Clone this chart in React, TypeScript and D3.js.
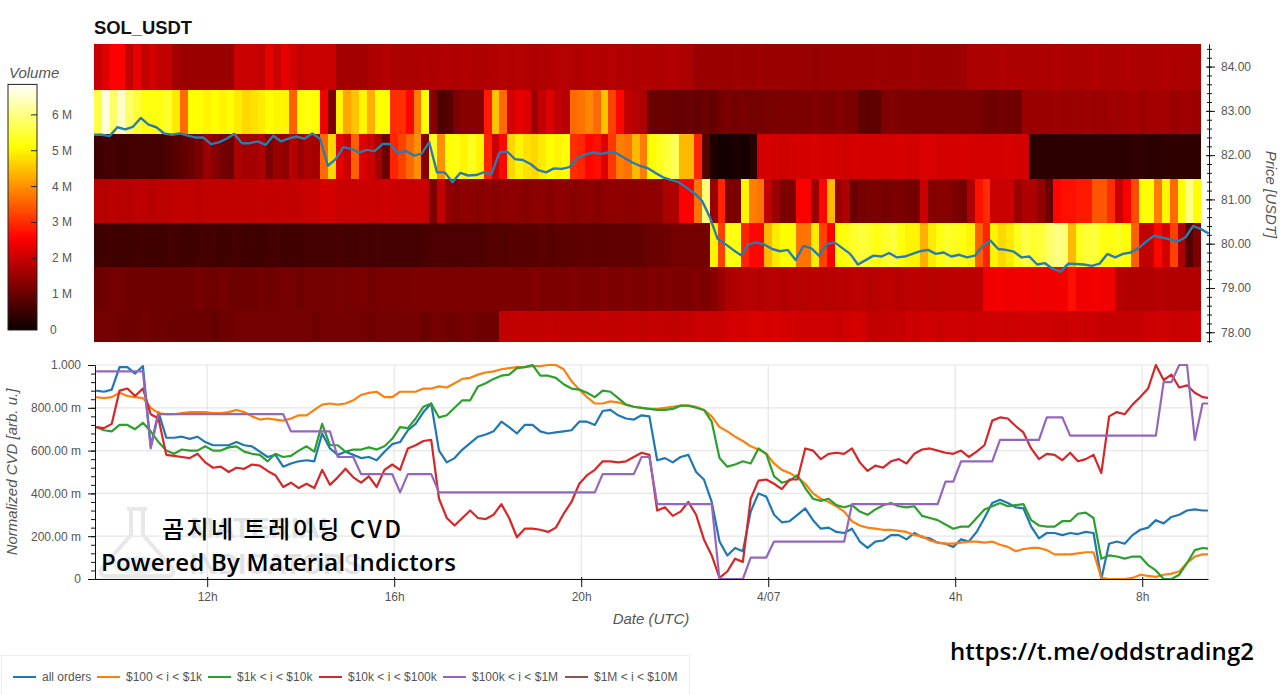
// App.tsx
import React, { useEffect, useRef } from 'react';
import * as d3 from 'd3';

const WIDTH = 1280;
const HEIGHT = 695;
const STEP_MS = 10 * 60 * 1000;

// first sample of both panels, 10 min per sample
const startTime = Date.UTC(2026, 3, 6, 9, 37, 30);

// traded volume in millions per price level, one value per 10 min column
const rowPrices = [84, 83, 82, 81, 80, 79, 78];

const volume84 = [
  2.0, 2.2, 2.55, 2.55, 1.9, 2.3, 1.9, 2.1, 1.9, 1.9,
  1.6, 1.5, 1.5, 1.5, 1.5, 1.5, 1.5, 1.5, 2.0, 2.0,
  2.0, 1.9, 2.3, 2.0, 2.3, 2.1, 1.9, 2.0, 2.0, 2.0,
  2.0, 1.6, 1.6, 1.6, 1.6, 1.7, 1.7, 1.8, 1.7, 1.7,
  1.7, 1.7, 1.75, 1.7, 1.75, 1.75, 1.7, 1.75, 1.75, 1.7,
  1.75, 1.75, 1.8, 1.75, 1.8, 1.75, 1.7, 1.75, 1.75, 1.8,
  1.8, 1.75, 1.75, 1.8, 1.75, 1.75, 1.8, 1.75, 1.75, 1.7,
  1.75, 1.75, 1.7, 1.75, 1.75, 1.7, 1.7, 1.5, 1.5, 1.5,
  1.5, 1.5, 1.55, 1.5, 1.5, 1.55, 1.5, 1.5, 1.5, 1.5,
  1.5, 1.5, 1.45, 1.5, 1.5, 1.5, 1.5, 1.5, 1.5, 1.5,
  1.55, 1.5, 1.5, 1.5, 1.5, 1.55, 1.5, 1.5, 1.5, 1.5,
  1.5, 1.55, 1.7, 1.7, 1.7, 1.7, 1.75, 1.7, 1.7, 1.7,
  1.7, 1.7, 1.7, 1.75, 1.7, 1.7, 1.7, 1.7, 1.75, 1.7,
  1.7, 1.7, 1.75, 1.7, 1.7, 1.7, 1.7, 1.75, 1.7, 1.7,
  1.7, 1.7,
];
const volume83 = [
  5.6, 6.6, 5.8, 6.5, 5.8, 5.5, 5.2, 5.2, 5.2, 5.4,
  4.9, 3.6, 5.1, 5.1, 5.0, 5.1, 5.0, 5.1, 4.9, 4.7,
  4.8, 4.9, 5.1, 5.0, 5.0, 3.5, 5.1, 5.2, 5.1, 2.4,
  1.2, 5.0, 4.2, 4.5, 5.0, 4.3, 5.1, 5.1, 3.0, 3.0,
  2.6, 3.8, 5.1, 1.3, 0.7, 0.8, 1.2, 1.3, 1.3, 1.3,
  2.8, 4.5, 3.6, 2.1, 2.3, 2.2, 1.5, 1.9, 2.2, 1.9,
  1.8, 3.6, 3.7, 3.9, 3.6, 4.5, 3.2, 2.6, 1.9, 1.8,
  1.7, 1.0, 1.0, 1.0, 0.95, 0.95, 1.0, 0.95, 1.0, 0.95,
  1.1, 1.15, 1.1, 1.15, 1.1, 1.1, 1.15, 1.2, 1.2, 1.15,
  1.2, 1.2, 1.25, 1.2, 1.2, 1.25, 1.2, 1.2, 0.9, 0.85,
  0.9, 1.2, 1.25, 1.2, 1.2, 1.2, 1.15, 1.15, 1.2, 1.2,
  1.2, 1.2, 1.15, 1.15, 1.05, 1.05, 1.1, 1.05, 1.05, 1.5,
  1.5, 1.5, 1.5, 1.55, 1.5, 1.5, 1.5, 1.55, 1.5, 1.5,
  1.55, 1.55, 1.6, 1.6, 1.5, 1.6, 1.6, 1.6, 1.5, 1.55,
  1.55, 1.5,
];
const volume82 = [
  0.55, 0.6, 0.6, 0.55, 0.6, 0.6, 0.6, 0.6, 0.6, 0.7,
  0.8, 0.9, 1.0, 1.2, 1.5, 1.3, 1.1, 1.0, 1.7, 1.6,
  1.6, 1.7, 1.2, 1.5, 1.4, 1.8, 1.5, 1.7, 1.6, 3.6,
  4.7, 2.3, 2.0, 3.5, 2.2, 2.0, 1.6, 1.0, 2.9, 3.2,
  3.6, 4.0, 1.3, 5.3, 4.0, 5.1, 5.2, 5.0, 5.3, 5.0,
  2.9, 2.0, 2.6, 4.7, 5.0, 4.8, 4.7, 4.9, 5.1, 5.0,
  5.1, 3.0, 2.9, 2.6, 2.7, 2.2, 3.1, 3.8, 3.7, 4.4,
  3.8, 5.1, 5.3, 5.5, 5.7, 4.4, 4.4, 2.9, 0.8, 0.2,
  0.1, 0.1, 0.2, 0.1, 0.3, 2.1, 2.1, 2.1, 2.05, 2.1,
  2.1, 2.1, 2.15, 2.1, 2.1, 2.1, 2.05, 2.1, 2.1, 2.1,
  2.1, 2.1, 2.1, 2.15, 2.1, 2.1, 2.15, 2.15, 2.1, 2.1,
  2.1, 2.15, 2.1, 2.1, 2.1, 2.1, 2.1, 2.15, 2.1, 2.1,
  0.35, 0.35, 0.35, 0.35, 0.35, 0.35, 0.35, 0.35, 0.35, 0.35,
  0.35, 0.35, 0.35, 0.4, 0.4, 0.35, 0.35, 0.4, 0.4, 0.4,
  0.4, 0.4,
];
const volume81 = [
  1.8, 1.8, 1.85, 1.8, 1.8, 1.85, 1.85, 1.8, 1.85, 1.85,
  1.9, 1.9, 1.9, 1.85, 1.9, 1.9, 1.9, 1.9, 1.9, 1.9,
  1.9, 1.95, 1.9, 1.95, 1.95, 1.9, 1.95, 2.0, 2.0, 2.1,
  2.1, 2.0, 2.0, 2.0, 2.0, 2.0, 2.0, 2.05, 2.0, 2.0,
  2.0, 2.0, 2.0, 1.2, 1.9, 1.4, 1.3, 1.35, 1.35, 1.3,
  1.35, 1.3, 1.35, 1.35, 1.35, 1.3, 1.35, 1.35, 1.3, 1.35,
  1.35, 1.3, 1.35, 1.35, 1.3, 1.35, 1.35, 1.4, 1.35, 1.35,
  1.4, 1.35, 1.4, 1.7, 1.7, 2.5, 2.5, 3.7, 5.9, 1.5,
  2.9, 1.2, 1.2, 5.0, 3.8, 3.7, 1.9, 1.5, 1.2, 1.2,
  2.5, 2.5, 1.5, 2.6, 4.4, 1.5, 1.7, 1.0, 1.1, 1.2,
  1.2, 1.1, 1.2, 1.2, 1.1, 1.1, 2.0, 1.3, 1.3, 1.3,
  1.2, 1.1, 1.7, 2.7, 3.0, 2.0, 2.0, 2.0, 1.5, 1.7,
  1.7, 1.4, 1.0, 2.6, 2.7, 2.7, 2.8, 2.8, 3.4, 3.4,
  3.0, 2.0, 2.5, 3.3, 5.1, 5.1, 3.8, 5.0, 3.6, 5.1,
  6.0, 5.1,
];
const volume80 = [
  0.55, 0.6, 0.55, 0.55, 0.55, 0.6, 0.55, 0.55, 0.55, 0.6,
  0.6, 0.55, 0.55, 0.6, 0.6, 0.6, 0.55, 0.6, 0.6, 0.55,
  0.55, 0.55, 0.6, 0.6, 0.55, 0.6, 0.55, 0.6, 0.6, 0.6,
  0.6, 0.65, 0.6, 0.6, 0.65, 0.6, 0.65, 0.6, 0.6, 0.6,
  0.6, 0.6, 0.65, 0.7, 0.7, 0.7, 0.7, 0.7, 0.7, 0.7,
  0.75, 0.75, 0.75, 0.8, 0.8, 0.8, 0.8, 0.85, 0.8, 0.85,
  0.85, 0.85, 0.9, 0.9, 0.85, 0.85, 0.9, 0.9, 0.9, 0.9,
  0.95, 1.0, 1.0, 1.05, 1.1, 1.1, 1.1, 1.1, 1.1, 5.0,
  3.2, 5.2, 5.2, 2.9, 2.6, 2.6, 4.4, 4.9, 5.1, 5.1,
  3.7, 3.7, 4.9, 3.2, 2.5, 5.1, 5.2, 5.4, 5.5, 5.4,
  5.2, 5.4, 5.5, 5.2, 5.0, 5.0, 4.3, 4.9, 5.2, 5.4,
  5.3, 5.2, 5.0, 3.5, 2.9, 5.0, 4.7, 4.9, 5.3, 5.6,
  5.4, 5.5, 5.8, 6.0, 5.9, 4.4, 5.3, 5.5, 5.5, 5.2,
  5.2, 5.3, 5.1, 3.5, 1.9, 1.9, 2.6, 2.1, 3.2, 1.7,
  0.8, 1.2,
];
const volume79 = [
  1.0, 1.05, 1.1, 1.1, 1.05, 1.05, 1.05, 1.05, 1.05, 1.05,
  1.05, 1.05, 1.05, 1.1, 1.05, 1.05, 1.1, 1.05, 1.05, 1.05,
  1.05, 1.1, 1.05, 1.1, 1.1, 1.1, 1.05, 1.1, 1.1, 1.1,
  1.1, 1.15, 1.1, 1.15, 1.15, 1.1, 1.15, 1.15, 1.15, 1.15,
  1.15, 1.2, 1.2, 1.2, 1.2, 1.15, 1.2, 1.2, 1.2, 1.2,
  1.2, 1.2, 1.2, 1.2, 1.2, 1.2, 1.25, 1.2, 1.2, 1.2,
  1.2, 1.25, 1.2, 1.2, 1.2, 1.25, 1.2, 1.2, 1.25, 1.2,
  1.2, 1.25, 1.2, 1.25, 1.2, 1.2, 1.2, 1.25, 1.2, 1.3,
  1.5, 1.7, 1.75, 1.8, 1.8, 1.75, 1.8, 1.8, 1.75, 1.8,
  1.8, 1.8, 1.85, 1.8, 1.8, 1.85, 1.8, 1.85, 1.85, 1.8,
  1.8, 1.85, 1.85, 1.8, 1.85, 1.85, 1.85, 1.8, 1.85, 1.85,
  1.85, 1.85, 1.85, 1.85, 2.4, 2.4, 2.45, 2.35, 2.4, 2.4,
  2.35, 2.4, 2.4, 2.4, 2.45, 2.7, 2.4, 2.4, 2.45, 2.4,
  2.4, 1.8, 1.75, 1.75, 1.75, 1.75, 1.8, 1.75, 1.75, 1.75,
  1.75, 1.75,
];
const volume78 = [
  1.1, 1.1, 1.1, 1.05, 1.05, 1.05, 1.1, 1.05, 1.05, 1.05,
  1.0, 1.0, 1.0, 1.0, 1.0, 0.95, 1.05, 1.05, 1.1, 1.1,
  1.1, 1.1, 1.1, 1.1, 1.1, 1.1, 1.1, 1.1, 1.05, 1.1,
  1.1, 1.1, 1.1, 1.1, 1.1, 1.05, 1.1, 1.1, 1.1, 1.1,
  1.1, 1.1, 1.0, 1.1, 1.1, 1.05, 1.05, 1.1, 1.1, 1.05,
  1.05, 1.05, 1.9, 1.9, 1.95, 1.9, 1.9, 1.9, 1.95, 1.9,
  1.9, 1.9, 1.95, 1.9, 1.9, 1.95, 1.9, 1.9, 1.95, 1.95,
  1.9, 1.95, 1.95, 1.95, 1.9, 1.95, 1.95, 2.0, 2.0, 2.0,
  2.0, 2.1, 2.1, 2.1, 2.15, 2.15, 2.1, 2.15, 2.1, 2.1,
  2.05, 2.05, 2.05, 2.05, 2.05, 2.0, 2.05, 2.1, 2.1, 1.9,
  1.9, 1.95, 1.95, 1.95, 2.05, 2.0, 2.05, 2.05, 2.0, 2.05,
  2.05, 2.05, 2.0, 2.05, 2.05, 2.05, 2.05, 2.0, 2.05, 2.05,
  2.05, 2.05, 2.05, 2.0, 2.0, 2.05, 2.05, 2.0, 2.0, 1.95,
  1.95, 1.95, 1.95, 1.95, 2.0, 2.0, 2.05, 2.05, 2.0, 2.0,
  2.0, 2.05,
];
const volumeRows = [volume84, volume83, volume82, volume81, volume80, volume79, volume78];

const priceValues = [
  82.46, 82.46, 82.43, 82.63, 82.58, 82.64, 82.84, 82.69, 82.63, 82.49,
  82.46, 82.49, 82.44, 82.40, 82.40, 82.25, 82.29, 82.37, 82.48, 82.27,
  82.27, 82.31, 82.23, 82.44, 82.31, 82.38, 82.42, 82.37, 82.49, 82.37,
  81.76, 81.91, 82.18, 82.14, 82.06, 82.12, 82.09, 82.25, 82.25, 82.04,
  82.10, 81.99, 82.03, 82.29, 81.61, 81.61, 81.39, 81.60, 81.54, 81.55,
  81.61, 81.57, 82.06, 82.08, 81.91, 81.89, 81.80, 81.66, 81.61, 81.70,
  81.69, 81.73, 81.94, 82.01, 82.06, 82.03, 82.06, 82.05, 81.94, 81.84,
  81.76, 81.71, 81.60, 81.50, 81.44, 81.39, 81.27, 81.14, 80.97, 80.60,
  80.11, 79.99, 79.86, 79.74, 79.99, 80.03, 79.98, 79.88, 79.83, 79.86,
  79.63, 79.95, 79.90, 79.73, 79.99, 80.03, 79.90, 79.77, 79.53, 79.63,
  79.73, 79.71, 79.79, 79.69, 79.71, 79.77, 79.83, 79.86, 79.77, 79.80,
  79.71, 79.75, 79.69, 79.73, 79.95, 80.07, 79.88, 79.86, 79.82, 79.69,
  79.71, 79.53, 79.56, 79.43, 79.37, 79.55, 79.54, 79.53, 79.50, 79.55,
  79.77, 79.69, 79.77, 79.80, 79.90, 80.05, 80.18, 80.14, 80.10, 80.05,
  80.14, 80.40, 80.33, 80.23,
];

// normalized CVD, one value per 10 min
const cvdAll = [
  .88, .875, .885, .99, .99, .96, .995, .62, .78, .66,
  .66, .665, .655, .665, .64, .625, .625, .625, .64, .625,
  .62, .595, .57, .58, .525, .54, .55, .555, .55, .68,
  .61, .58, .595, .58, .565, .57, .555, .595, .63, .64,
  .695, .725, .78, .82, .60, .545, .565, .605, .635, .665,
  .675, .69, .735, .71, .68, .72, .72, .69, .68, .685,
  .69, .695, .735, .735, .72, .785, .79, .765, .75, .745,
  .765, .76, .555, .565, .545, .57, .58, .50, .465, .36,
  .175, .11, .145, .13, .315, .40, .385, .30, .265, .27,
  .30, .33, .275, .235, .24, .22, .215, .235, .175, .145,
  .175, .18, .205, .205, .185, .215, .195, .19, .17, .165,
  .15, .185, .175, .22, .285, .355, .37, .355, .335, .33,
  .245, .19, .215, .215, .205, .215, .21, .22, .215, 0,
  .165, .175, .165, .205, .23, .24, .275, .26, .29, .30,
  .32, .325, .32, .32,
];
const cvd100 = [
  .85, .845, .85, .87, .855, .85, .845, .80, .775, .77,
  .77, .775, .78, .78, .78, .775, .775, .78, .79, .78,
  .76, .745, .75, .745, .74, .75, .765, .765, .79, .815,
  .82, .815, .82, .835, .86, .87, .875, .85, .85, .875,
  .875, .875, .89, .89, .90, .895, .915, .935, .94, .955,
  .965, .97, .98, .985, .99, .99, .995, .995, 1, 1,
  .98, .925, .885, .85, .82, .82, .83, .825, .815, .805,
  .80, .795, .795, .80, .805, .81, .81, .805, .79, .76,
  .71, .69, .665, .645, .62, .605, .585, .54, .51, .495,
  .475, .445, .40, .375, .36, .34, .315, .27, .25, .24,
  .235, .23, .23, .225, .22, .205, .20, .18, .17, .165,
  .165, .17, .175, .175, .17, .175, .16, .15, .13, .14,
  .145, .145, .135, .115, .115, .115, .12, .125, .125, .005,
  0, 0, 0, .005, .02, .015, .01, .02, .025, .035,
  .075, .105, .115, .115,
];
const cvd1k = [
  .71, .695, .69, .72, .72, .70, .73, .69, .64, .60,
  .585, .605, .60, .60, .62, .60, .60, .615, .62, .595,
  .585, .58, .55, .585, .57, .575, .60, .62, .595, .725,
  .625, .625, .595, .605, .605, .615, .605, .62, .655, .71,
  .705, .75, .805, .82, .755, .765, .80, .835, .835, .90,
  .915, .935, .95, .955, .985, .99, 1, .95, .95, .94,
  .91, .89, .885, .87, .85, .88, .875, .845, .815, .805,
  .80, .795, .79, .79, .795, .81, .81, .80, .79, .735,
  .565, .525, .535, .55, .54, .61, .585, .48, .45, .46,
  .485, .425, .375, .365, .375, .345, .335, .345, .315, .30,
  .325, .345, .355, .34, .335, .34, .295, .285, .275, .255,
  .235, .245, .245, .285, .325, .34, .355, .34, .345, .35,
  .275, .25, .245, .245, .27, .27, .305, .31, .285, .095,
  .11, .105, .095, .105, .105, .065, .04, 0, 0, .02,
  .075, .135, .145, .14,
];
const cvd10k = [
  .71, .705, .725, .88, .89, .855, .89, .77, .75, .58,
  .575, .57, .565, .585, .545, .52, .525, .50, .52, .515,
  .535, .53, .505, .485, .43, .45, .425, .445, .425, .51,
  .44, .475, .515, .475, .45, .48, .43, .51, .535, .51,
  .61, .625, .645, .65, .375, .285, .25, .285, .32, .285,
  .28, .30, .35, .285, .195, .235, .235, .23, .22, .24,
  .305, .36, .445, .485, .51, .55, .55, .545, .55, .57,
  .59, .58, .32, .335, .295, .315, .36, .30, .185, .11,
  .005, .035, .095, .08, .375, .46, .465, .445, .42, .465,
  .465, .61, .60, .56, .585, .59, .585, .61, .545, .505,
  .53, .52, .55, .56, .54, .585, .605, .61, .60, .59,
  .585, .60, .57, .595, .625, .74, .755, .75, .715, .685,
  .61, .56, .585, .58, .555, .59, .55, .56, .58, .495,
  .76, .78, .77, .815, .85, .89, 1, .93, .955, .895,
  .905, .87, .85, .845,
];
const cvd100k = [
  .97, .97, .97, .97, .97, .97, .97, .61, .77, .77,
  .77, .77, .77, .77, .77, .77, .77, .77, .77, .77,
  .77, .77, .77, .77, .77, .69, .69, .69, .69, .69,
  .69, .57, .57, .57, .49, .49, .49, .49, .49, .405,
  .49, .49, .49, .49, .405, .405, .405, .405, .405, .405,
  .405, .405, .405, .405, .405, .405, .405, .405, .405, .405,
  .405, .405, .405, .405, .405, .49, .49, .49, .49, .49,
  .57, .57, .35, .35, .35, .35, .35, .35, .35, .35,
  0, 0, 0, 0, .10, .10, .10, .175, .175, .175,
  .175, .175, .175, .175, .175, .175, .175, .35, .35, .35,
  .35, .35, .35, .35, .35, .35, .35, .35, .35, .455,
  .455, .55, .55, .55, .55, .55, .65, .65, .65, .65,
  .65, .65, .755, .755, .755, .67, .67, .67, .67, .67,
  .67, .67, .67, .67, .67, .67, .67, .92, .92, 1,
  1, .65, .82, .82,
];

const seriesNames = ['all orders', '$100 < i < $1k', '$1k < i < $10k', '$10k < i < $100k', '$100k < i < $1M', '$1M < i < $10M'];
const seriesColors = ['#1f77b4', '#ff7f0e', '#2ca02c', '#d62728', '#9467bd', '#8c564b'];
const seriesValues = [cvdAll, cvd100, cvd1k, cvd10k, cvd100k];

const legendGlyphX = [13, 97, 208, 319, 443, 565];

const volumeTicks = [0, 1, 2, 3, 4, 5, 6];
const cvdTicks = [0, 0.2, 0.4, 0.6, 0.8, 1];
const cvdMinorTicks = d3.range(0, 1.001, 0.04);
const priceTicks = [78, 79, 80, 81, 82, 83, 84];
const priceMinorTicks = d3.range(77.8, 84.5, 0.2);
const timeTicks = [
  Date.UTC(2026, 3, 6, 12),
  Date.UTC(2026, 3, 6, 16),
  Date.UTC(2026, 3, 6, 20),
  Date.UTC(2026, 3, 7, 0),
  Date.UTC(2026, 3, 7, 4),
  Date.UTC(2026, 3, 7, 8),
];

const sans = '"Liberation Sans", Arial, sans-serif';
const labelColor = '#555';

const hot = d3
  .scaleLinear<string>()
  .domain([0, 2.55, 5.1, 6.85])
  .range(['#0a0000', '#ff0000', '#ffff00', '#ffffff']);

const timeAt = (i: number) => startTime + i * STEP_MS;

// top panel
const priceMin = 77.78;
const priceMax = 84.51;
const xTop = d3.scaleUtc().domain([timeAt(0), timeAt(143)]).range([94, 1208.7]);
const yPrice = d3.scaleLinear().domain([priceMin, priceMax]).range([342, 44]);
const yColorBar = d3.scaleLinear().domain([0, 6.85]).range([330, 84.4]);

// the price bands sit slightly below their tick, the outer two run to the panel edge
const bandTop = (p: number) => yPrice(p === rowPrices[0] ? priceMax : p + 0.47);
const bandBottom = (p: number) => yPrice(Math.max(p - 0.53, priceMin));

// bottom panel
const xCvd = d3
  .scaleUtc()
  .domain([Date.UTC(2026, 3, 6, 9, 36), Date.UTC(2026, 3, 7, 9, 24, 25)])
  .range([95, 1208]);
const yCvd = d3.scaleLinear().domain([0, 1]).range([579, 365]);

const priceLine = d3
  .line<number>()
  .x((_, i) => xTop(timeAt(i)))
  .y((d) => yPrice(d));

const cvdLine = d3
  .line<number>()
  .x((_, i) => xCvd(timeAt(i)))
  .y((d) => yCvd(d));

const formatCvd = (d: number) => {
  if (d === 0) return '0';
  if (d === 1) return '1.000';
  return `${(d * 1000).toFixed(2)} m`;
};

const formatTime = (d: Date) => {
  if (d.getUTCHours() === 0) return `${d.getUTCMonth() + 1}/${String(d.getUTCDate()).padStart(2, '0')}`;
  return `${d.getUTCHours()}h`;
};

const styleAxis = (g: d3.Selection<SVGGElement, unknown, null, undefined>) => {
  g.selectAll('text').attr('fill', labelColor).style('font-family', sans).style('font-size', '12px');
  g.selectAll('line').attr('stroke', '#111');
  g.select('.domain').attr('stroke', '#111');
};

const App: React.FC = () => {
  const priceAxisRef = useRef<SVGGElement | null>(null);
  const priceMinorRef = useRef<SVGGElement | null>(null);
  const cvdAxisRef = useRef<SVGGElement | null>(null);
  const cvdMinorRef = useRef<SVGGElement | null>(null);
  const timeAxisRef = useRef<SVGGElement | null>(null);

  useEffect(() => {
    if (!priceAxisRef.current || !priceMinorRef.current) return;
    if (!cvdAxisRef.current || !cvdMinorRef.current || !timeAxisRef.current) return;

    const priceAxis = d3
      .axisRight(yPrice)
      .tickValues(priceTicks)
      .tickSize(6)
      .tickPadding(6)
      .tickSizeOuter(0)
      .tickFormat((d) => (d as number).toFixed(2));
    const priceGroup = d3.select(priceAxisRef.current).call(priceAxis);
    styleAxis(priceGroup);
    priceGroup.selectAll('.tick line').attr('x1', -3);

    const priceMinor = d3.axisRight(yPrice).tickValues(priceMinorTicks).tickSize(3).tickSizeOuter(0).tickFormat(() => '');
    const priceMinorGroup = d3.select(priceMinorRef.current).call(priceMinor);
    styleAxis(priceMinorGroup);
    priceMinorGroup.selectAll('.tick line').attr('x1', -2);

    const cvdAxis = d3
      .axisLeft(yCvd)
      .tickValues(cvdTicks)
      .tickSize(7)
      .tickPadding(7)
      .tickSizeOuter(0)
      .tickFormat((d) => formatCvd(d as number));
    styleAxis(d3.select(cvdAxisRef.current).call(cvdAxis));

    const cvdMinor = d3.axisLeft(yCvd).tickValues(cvdMinorTicks).tickSize(4).tickSizeOuter(0).tickFormat(() => '');
    styleAxis(d3.select(cvdMinorRef.current).call(cvdMinor));

    const timeAxis = d3
      .axisBottom(xCvd)
      .tickValues(timeTicks.map((t) => new Date(t)))
      .tickSize(8)
      .tickPadding(5)
      .tickSizeOuter(0)
      .tickFormat((d) => formatTime(d as Date));
    const timeGroup = d3.select(timeAxisRef.current).call(timeAxis);
    styleAxis(timeGroup);
    timeGroup.selectAll('.tick line').attr('y1', -2);
  }, []);

  return (
    <svg
      width={WIDTH}
      height={HEIGHT}
      viewBox={`0 0 ${WIDTH} ${HEIGHT}`}
      style={{ position: 'absolute', left: 0, top: 0, background: '#fff' }}
    >
      <defs>
        <clipPath id="cvd-clip">
          <rect x={95} y={363} width={1113} height={218} />
        </clipPath>
      </defs>

      <text x={94} y={34} fontFamily={sans} fontWeight={700} fontSize={18.4} fill="#111">
        SOL_USDT
      </text>

      {/* colour bar */}
      <text x={9} y={78} fontFamily={sans} fontStyle="italic" fontSize={15} fill={labelColor}>
        Volume
      </text>
      {d3.range(0, 6.85, 0.025).map((v) => (
        <rect
          key={v}
          x={8}
          y={yColorBar(v + 0.025)}
          width={29}
          height={yColorBar(v) - yColorBar(v + 0.025) + 0.1}
          fill={hot(v)}
          shapeRendering="crispEdges"
        />
      ))}
      <rect x={8} y={84.4} width={29} height={245.6} fill="none" stroke="#222" strokeWidth={1} />
      {volumeTicks.map((v) => (
        <g key={v}>
          {v > 0 && <line x1={31} x2={37} y1={yColorBar(v)} y2={yColorBar(v)} stroke="#222" />}
          <text x={v === 0 ? 50 : 52} y={yColorBar(v) + 4} fontFamily={sans} fontSize={12} fill={labelColor}>
            {v === 0 ? '0' : `${v} M`}
          </text>
        </g>
      ))}

      {/* heatmap */}
      {volumeRows.map((row, r) =>
        row.map((v, i) => (
          <rect
            key={`${r}-${i}`}
            x={xTop(timeAt(i))}
            y={bandTop(rowPrices[r])}
            width={xTop(timeAt(i + 1)) - xTop(timeAt(i)) + 0.1}
            height={bandBottom(rowPrices[r]) - bandTop(rowPrices[r])}
            fill={hot(v)}
            shapeRendering="crispEdges"
          />
        )),
      )}
      <path d={priceLine(priceValues) ?? ''} fill="none" stroke="#2a7cae" strokeWidth={2.4} strokeLinejoin="round" />

      <g ref={priceAxisRef} transform="translate(1209,0)" />
      <g ref={priceMinorRef} transform="translate(1209,0)" />
      <text
        transform="translate(1266,194.5) rotate(90)"
        textAnchor="middle"
        fontFamily={sans}
        fontStyle="italic"
        fontSize={15}
        fill={labelColor}
      >
        Price [USDT]
      </text>

      {/* cvd panel background */}
      {timeTicks.map((t) => (
        <line key={t} x1={xCvd(t)} x2={xCvd(t)} y1={365} y2={579} stroke="#e6e6e6" strokeWidth={1.2} />
      ))}
      {cvdTicks.map((v) => (
        <line key={v} x1={95} x2={1208} y1={yCvd(v)} y2={yCvd(v)} stroke="#e6e6e6" strokeWidth={1.2} />
      ))}
      <line x1={1208} x2={1208} y1={365} y2={579} stroke="#e6e6e6" strokeWidth={1.2} />

      {/* watermark */}
      <g fill="#e2e2e2" fontFamily={sans} fontWeight={700} fontSize={29}>
        <text x={190} y={538}>
          MATERIAL
        </text>
        <text x={190} y={574} textLength={172} lengthAdjust="spacingAndGlyphs">
          INDICATORS
        </text>
      </g>
      <path
        d="M127 509 H147 M131 509 V535 L102 568 Q98 575 106 576 H168 Q176 575 172 568 L143 535 V509"
        fill="none"
        stroke="#e8e8e8"
        strokeWidth={4}
      />
      <ellipse cx={137} cy={565} rx={24} ry={9} fill="#e9eef3" />

      <g clipPath="url(#cvd-clip)">
        {seriesValues.map((values, s) => (
          <path
            key={seriesNames[s]}
            d={cvdLine(values) ?? ''}
            fill="none"
            stroke={seriesColors[s]}
            strokeWidth={2.2}
            strokeLinejoin="round"
          />
        ))}
      </g>

      <g ref={cvdAxisRef} transform="translate(95,0)" />
      <g ref={cvdMinorRef} transform="translate(95,0)" />
      <g ref={timeAxisRef} transform="translate(0,579)" />

      <text
        transform="translate(17,472) rotate(-90)"
        textAnchor="middle"
        fontFamily={sans}
        fontStyle="italic"
        fontSize={15}
        fill={labelColor}
      >
        Normalized CVD [arb. u.]
      </text>
      <text x={651} y={624} textAnchor="middle" fontFamily={sans} fontStyle="italic" fontSize={15} fill={labelColor}>
        Date (UTC)
      </text>

      {/* overlay captions */}
      <text x={162} y={538} fontFamily='"Noto Sans CJK KR"' fontWeight={500} fontSize={24} fill="#000" textLength={239}>
        곰지네 트레이딩 CVD
      </text>
      <text x={101} y={571} fontFamily='"Open Sans"' fontWeight={600} fontSize={24} fill="#000" textLength={355}>
        Powered By Material Indictors
      </text>
      <text x={950} y={660} fontFamily='"Open Sans"' fontWeight={600} fontSize={24} fill="#000" textLength={304}>
        https://t.me/oddstrading2
      </text>

      {/* legend */}
      <rect x={1.5} y={655.5} width={688} height={45} fill="#fff" stroke="#eeeeee" />
      {seriesNames.map((name, s) => (
        <g key={name}>
          <line x1={legendGlyphX[s]} x2={legendGlyphX[s] + 23} y1={677} y2={677} stroke={seriesColors[s]} strokeWidth={2} />
          <text x={legendGlyphX[s] + 29} y={681} fontFamily={sans} fontSize={12} fill={labelColor}>
            {name}
          </text>
        </g>
      ))}
    </svg>
  );
};

export default App;
